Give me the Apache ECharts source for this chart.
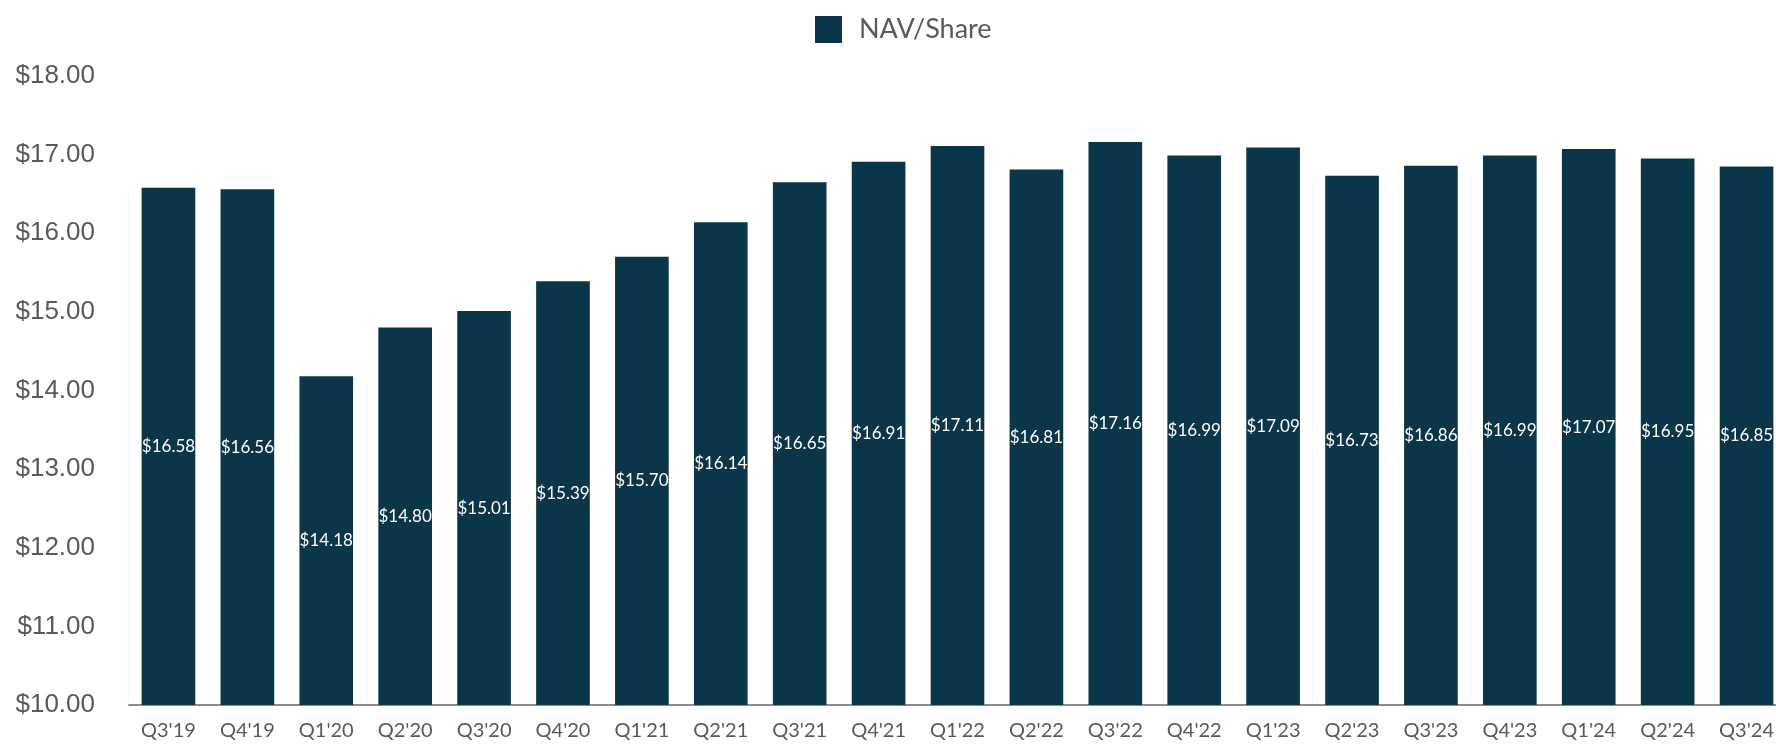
<!DOCTYPE html>
<html>
<head>
<meta charset="utf-8">
<script src="https://cdn.jsdelivr.net/npm/echarts@6/dist/echarts.min.js"></script>
<style>
  html, body { margin: 0; padding: 0; background: #fff; }
  #chart { width: 1776px; height: 745px; }
</style>
</head>
<body>
<div id="chart"></div>
<script>
const quarters = ["Q3'19", "Q4'19", "Q1'20", "Q2'20", "Q3'20", "Q4'20", "Q1'21", "Q2'21", "Q3'21", "Q4'21",
  "Q1'22", "Q2'22", "Q3'22", "Q4'22", "Q1'23", "Q2'23", "Q3'23", "Q4'23", "Q1'24", "Q2'24", "Q3'24"]
const navPerShare = [16.58, 16.56, 14.18, 14.80, 15.01, 15.39, 15.70, 16.14, 16.65, 16.91,
  17.11, 16.81, 17.16, 16.99, 17.09, 16.73, 16.86, 16.99, 17.07, 16.95, 16.85]
const seriesName = 'NAV/Share'

const chart = echarts.init(document.getElementById('chart'))
const option = {
  animation: false,
  legend: {
    data: [seriesName],
    top: 11,
    left: 810,
    itemWidth: 27,
    itemHeight: 27,
    icon: 'rect',
    textStyle: {
      color: '#595959',
      fontSize: 27,
      fontFamily: 'Lato',
      padding: [0, 0, 0, 12]
    }
  },
  grid: {
    left: 129,
    top: 76,
    width: 1657,
    bottom: 40,
    outerBoundsMode: 'none',
    containLabel: false
  },
  xAxis: {
    type: 'category',
    data: quarters,
    axisLine: {
      lineStyle: { color: '#8c8c8c', width: 2 }
    },
    axisTick: { show: false },
    axisLabel: {
      interval: 0,
      margin: 16,
      color: '#595959',
      fontSize: 20,
      fontFamily: 'Lato'
    }
  },
  yAxis: {
    type: 'value',
    min: 10,
    max: 18,
    interval: 1,
    splitLine: { show: false },
    axisLine: { show: false },
    axisTick: { show: false },
    axisLabel: {
      margin: 34,
      color: '#595959',
      fontSize: 26,
      fontFamily: 'Liberation Sans',
      formatter: v => '$' + v.toFixed(2)
    }
  },
  series: [
    {
      name: seriesName,
      type: 'bar',
      barWidth: '68%',
      itemStyle: {
        color: '#0b3549'
      },
      label: {
        show: true,
        position: 'inside',
        color: '#fff',
        fontSize: 17,
        fontFamily: 'Lato',
        formatter: p => '$' + p.value.toFixed(2)
      },
      data: navPerShare
    }
  ]
}
chart.setOption(option)
</script>
</body>
</html>
